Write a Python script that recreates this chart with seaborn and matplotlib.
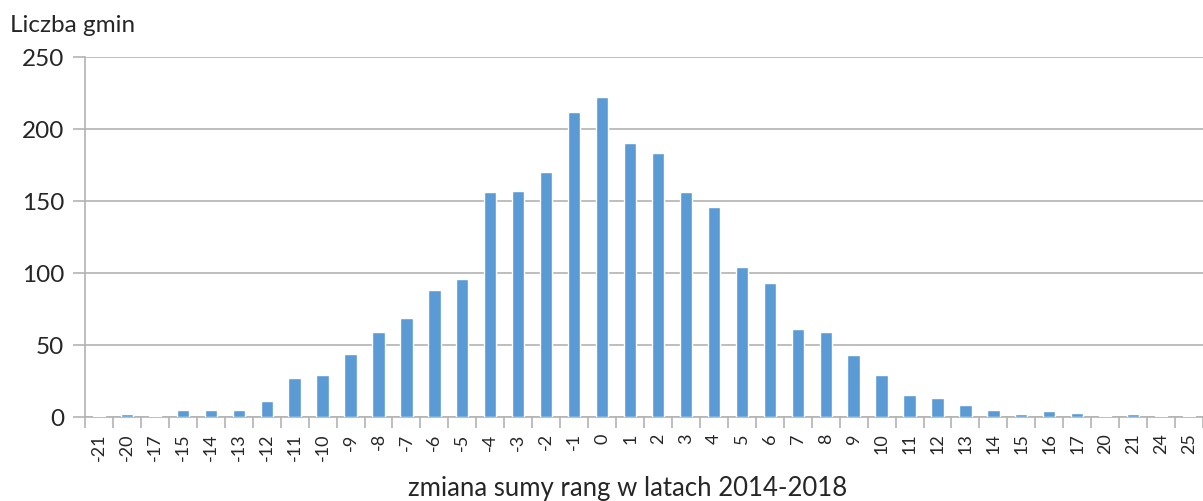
import pandas as pd
import seaborn as sns
import matplotlib.pyplot as plt
import numpy as np

# Data
zmiana = [-21, -20, -17, -15, -14, -13, -12, -11, -10, -9, -8, -7, -6, -5, -4, -3, -2, -1,
          0, 1, 2, 3, 4, 5, 6, 7, 8, 9, 10, 11, 12, 13, 14, 15, 16, 17, 20, 21, 24, 25]
liczba = [1, 2, 1, 5, 5, 5, 11, 27, 29, 44, 59, 69, 88, 96, 156, 157, 170, 212,
          222, 190, 183, 156, 146, 104, 93, 61, 59, 43, 29, 15, 13, 8, 5, 2, 4, 3, 1, 2, 1, 1]

df = pd.DataFrame({'zmiana': [str(z) for z in zmiana], 'liczba': liczba})

sns.set_style('white')
plt.rcParams['font.family'] = ['Lato', 'DejaVu Sans']

fig = plt.figure(figsize=(12.03, 5.02), dpi=100)
ax = fig.add_axes([85 / 1203, 1 - 418 / 502, 1 - 85 / 1203, 360 / 502])

sns.barplot(data=df, x='zmiana', y='liczba', order=df['zmiana'], color='#5B9BD5',
            width=0.44, saturation=1, ax=ax)
# bars drawn over the axis line so the tiny ones stay visible
for p in ax.patches:
    p.set_zorder(3)

grid = '#B3B3B3'
ax.set_ylim(0, 250)
ax.set_xlim(-0.5, len(zmiana) - 0.5)
ax.set_yticks(range(0, 251, 50))
ax.yaxis.grid(True, color=grid, linewidth=1.2)
ax.set_axisbelow(True)

# Excel style: tick marks between categories
ax.set_xticks(np.arange(len(zmiana)))
ax.set_xticks(np.arange(-0.5, len(zmiana)), minor=True)
ax.tick_params(axis='x', which='major', length=0, labelsize=13, labelrotation=90, pad=11)
ax.tick_params(axis='x', which='minor', length=8, width=1.2, color=grid, bottom=True)
ax.tick_params(axis='y', length=9, width=1.2, color=grid, left=True, labelsize=17.5, pad=6)

for s in ['top', 'right']:
    ax.spines[s].set_visible(False)
for s in ['left', 'bottom']:
    ax.spines[s].set_color(grid)
    ax.spines[s].set_linewidth(1.2)

ax.set_xlabel('')
ax.set_ylabel('')
fig.text(10 / 1203, 1 - 26 / 502, 'Liczba gmin', fontsize=17.5, va='center', ha='left')
fig.text(628 / 1203, 1 - 489 / 502, 'zmiana sumy rang w latach 2014-2018', fontsize=18.5,
         va='center', ha='center')

fig.savefig('out.png', dpi=100)
